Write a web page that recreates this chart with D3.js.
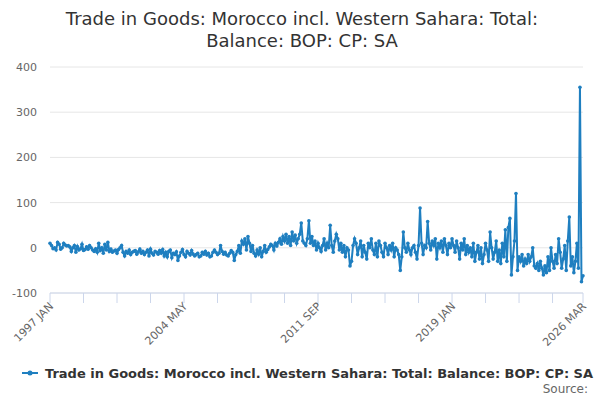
<!DOCTYPE html>
<html><head><meta charset="utf-8">
<script src="https://cdn.jsdelivr.net/npm/d3@7"></script>
<style>body{margin:0;font-family:"DejaVu Sans",sans-serif;}</style>
</head><body>
<div class="container"></div>
<script>
var title = ["Trade in Goods: Morocco incl. Western Sahara: Total:", "Balance: BOP: CP: SA"];
var seriesName = "Trade in Goods: Morocco incl. Western Sahara: Total: Balance: BOP: CP: SA";
var startYear = 1997;
var values = [
 10,5,-2,0,-5,12,8,-3,0,10,6,4,
 5,2,-8,0,5,-10,3,-5,-2,8,-6,-4,
 2,-3,5,0,-5,-8,-2,-10,10,-6,0,-12,
 8,-5,12,-8,-3,-10,-7,-5,-12,-4,0,5,
 -10,-18,-8,-12,-5,-15,-10,-8,-6,-14,-9,-3,
 -12,-8,-15,-10,-5,-18,-3,-12,-16,-8,-10,-14,
 -6,-12,-4,-18,-10,-20,-8,-5,-22,-12,-15,-9,
 -28,-18,-10,-4,-15,-20,-8,-12,-16,-6,-14,-18,
 -15,-12,-20,-18,-10,-14,-8,-16,-12,-20,-18,-10,
 -5,-10,-15,-12,5,-8,-14,-10,-16,-18,-12,-6,
 -10,-28,-15,-8,5,-12,15,8,20,-5,25,10,
 -8,5,-12,-18,-5,-14,0,-20,-8,5,-10,-4,
 2,8,5,-5,10,4,12,20,8,25,15,30,
 10,25,5,35,15,28,10,20,30,55,15,10,
 5,20,60,10,25,5,15,-5,10,0,-8,5,
 20,-5,10,0,50,5,-10,15,30,20,-5,10,
 -10,5,-20,0,-5,-40,-30,5,20,10,-15,0,
 15,-20,5,-10,-25,10,0,20,-5,-15,10,-20,
 15,5,-10,-20,10,0,-15,5,-5,10,-20,0,
 -5,-15,-50,-20,35,0,-10,10,-5,-15,0,5,
 -10,-25,5,88,10,-15,5,0,58,10,-5,15,
 5,20,-25,10,0,15,-10,20,5,-15,10,0,
 20,5,-10,15,0,-25,10,-5,20,-15,5,-10,
 0,-20,10,-30,-10,5,-25,0,-35,-15,10,-5,
 -30,35,0,-25,-10,15,-30,-5,-35,10,-20,40,
 -30,45,65,-60,-20,15,120,-50,-20,-30,-15,-40,
 -25,-35,-15,-30,-20,0,-40,-45,-35,-50,-30,-45,
 -60,-40,-55,-20,-50,0,-30,-45,-15,-35,20,-10,
 -45,-25,5,-50,15,68,-40,-20,-55,-30,10,-45,
 355,-75,-62
];
var yTicks = [-100, 0, 100, 200, 300, 400];
var months = ["JAN","FEB","MAR","APR","MAY","JUN","JUL","AUG","SEP","OCT","NOV","DEC"];
function label(i){ return (startYear + Math.floor(i/12)) + " " + months[i%12]; }

var W = 600, H = 400, m = {l:50, r:17, t:67, b:107};
var svg = d3.select('.container').append('svg').attr('width', W).attr('height', H);

svg.selectAll('text.title').data(title).enter().append('text')
  .attr('x', 302).attr('y', function(d,i){ return 25 + i*22; })
  .attr('text-anchor', 'middle').attr('font-size', 18).attr('fill', '#333').text(function(d){ return d; });

var x = d3.scaleLinear().domain([0, values.length-1]).range([m.l, W-m.r]);
var y = d3.scaleLinear().domain([-100, 400]).range([H-m.b, m.t]);

var grid = svg.append('g');
grid.selectAll('line').data(yTicks).enter().append('line')
  .attr('x1', m.l).attr('x2', W-m.r).attr('y1', y).attr('y2', y)
  .attr('stroke', '#e6e6e6');
svg.append('g').selectAll('text').data(yTicks).enter().append('text')
  .attr('x', 37).attr('y', function(d){ return y(d)+4; }).attr('text-anchor','end')
  .attr('font-size', 11).attr('fill', '#666').text(function(d){ return d; });

var xTicks = d3.range(0, values.length, 22);
var xa = svg.append('g').attr('transform', 'translate(0,' + (H-m.b) + ')');
xa.append('line').attr('x1', m.l).attr('x2', W-m.r).attr('stroke', '#ccd6eb');
xa.selectAll('line.t').data(xTicks.concat([values.length-1])).enter().append('line')
  .attr('x1', x).attr('x2', x).attr('y1', 0).attr('y2', 10).attr('stroke', '#ccd6eb');
xa.selectAll('text').data([0, 88, 176, 264, 350]).enter().append('text')
  .attr('transform', function(d){ return 'translate(' + (x(d)+4) + ',14) rotate(-45)'; })
  .attr('text-anchor', 'end').attr('font-size', 11).attr('fill', '#666').text(label);

var line = d3.line().x(function(d,i){ return x(i); }).y(function(d){ return y(d); });
svg.append('path').datum(values).attr('d', line).attr('fill','none')
  .attr('stroke', '#1f7fc0').attr('stroke-width', 2);
svg.append('g').selectAll('circle').data(values).enter().append('circle')
  .attr('cx', function(d,i){ return x(i); }).attr('cy', y).attr('r', 1.8).attr('fill', '#1f7fc0');

var lg = svg.append('g').attr('transform', 'translate(22,373)');
lg.append('line').attr('x1', 0).attr('x2', 16).attr('stroke', '#1f7fc0').attr('stroke-width', 2);
lg.append('circle').attr('cx', 8).attr('r', 2.5).attr('fill', '#1f7fc0');
lg.append('text').attr('x', 23).attr('y', 5).attr('font-size', 13).attr('font-weight', 'bold')
  .attr('fill', '#333').text(seriesName);
svg.append('text').attr('x', 588).attr('y', 393).attr('text-anchor','end')
  .attr('font-size', 12).attr('fill', '#666').text('Source:');
</script>
</body></html>
